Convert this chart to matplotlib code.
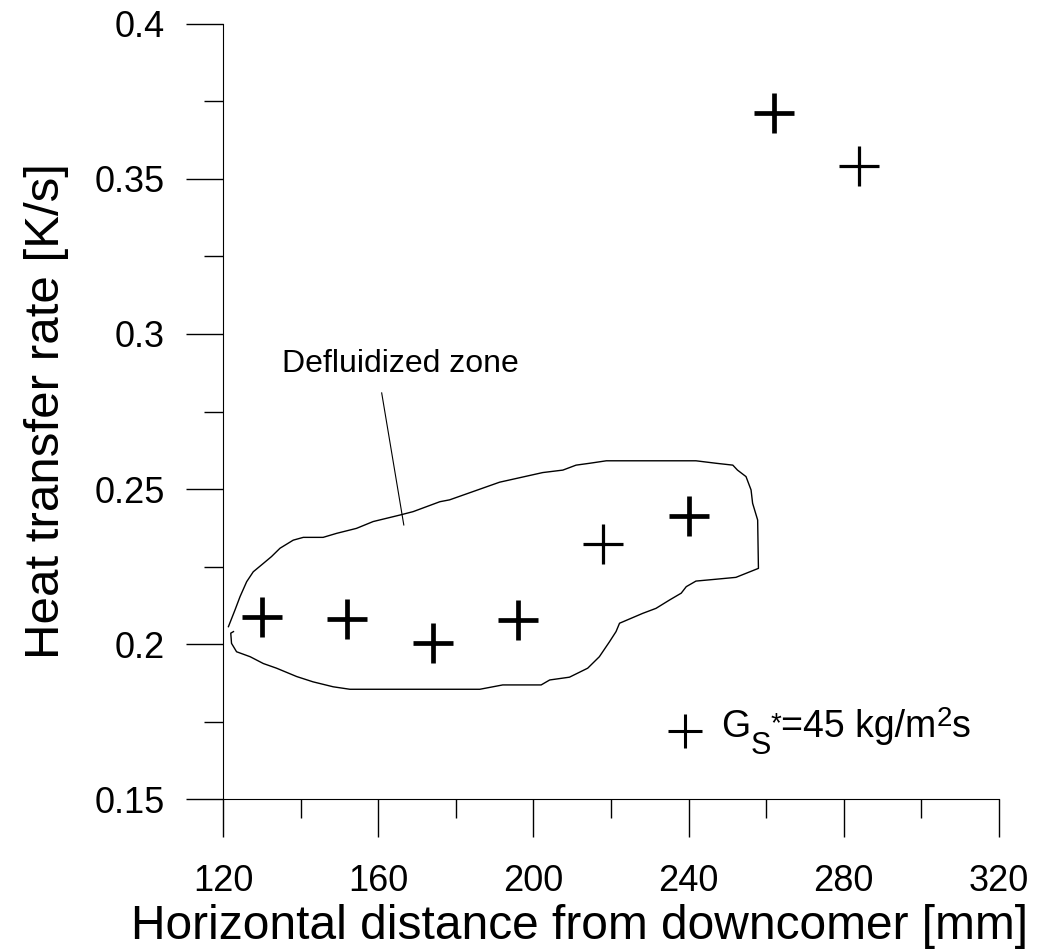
import matplotlib
matplotlib.use('Agg')
import matplotlib.pyplot as plt
from matplotlib.ticker import MultipleLocator

plt.rcParams['font.family'] = ['Liberation Sans', 'DejaVu Sans']

# measured points (Gs* = 45 kg/m2s)
dist_bold = [130, 152, 174, 196, 240, 262]
rate_bold = [0.2087, 0.2080, 0.2004, 0.2077, 0.2414, 0.3714]
dist_thin = [218, 284]
rate_thin = [0.2324, 0.3542]

# outline of the defluidized zone
zone_x = [121.4, 123.1, 124.4, 126.1, 127.8, 130.4, 132.5, 134.7, 138.1, 140.7,
          145.8, 149.3, 154.4, 158.7, 165.6, 169.0, 175.9, 178.4, 191.3, 202.4,
          207.6, 211.0, 214.5, 218.8, 241.9, 247.1, 251.4, 252.6, 254.8, 256.1,
          256.5, 257.8, 258.0, 254.8, 252.2, 247.1, 241.9, 239.4, 238.1, 235.1,
          231.6, 228.2, 222.2, 221.3, 219.6, 217.0, 214.0, 209.3, 204.2, 202.0,
          192.1, 186.2, 152.7, 148.4, 143.2, 139.0, 133.8, 130.4, 127.0, 123.5,
          122.2, 122.0, 122.7]
zone_y = [0.2056, 0.2110, 0.2153, 0.2201, 0.2233, 0.2260, 0.2282, 0.2309, 0.2335, 0.2344,
          0.2344, 0.2357, 0.2373, 0.2395, 0.2416, 0.2427, 0.2459, 0.2465, 0.2522, 0.2553,
          0.2561, 0.2577, 0.2583, 0.2591, 0.2591, 0.2583, 0.2577, 0.2561, 0.2540, 0.2497,
          0.2454, 0.2400, 0.2244, 0.2228, 0.2215, 0.2209, 0.2203, 0.2185, 0.2164, 0.2142,
          0.2115, 0.2099, 0.2067, 0.2040, 0.2007, 0.1959, 0.1922, 0.1893, 0.1884, 0.1868,
          0.1868, 0.1854, 0.1854, 0.1862, 0.1878, 0.1895, 0.1922, 0.1937, 0.1959, 0.1975,
          0.2002, 0.2035, 0.2040]

leader_x = [160.9, 166.6]
leader_y = [0.281, 0.2384]

fig = plt.figure(figsize=(10.43, 9.52), dpi=100)
ax = fig.add_axes([0.2138, 0.1607, 0.9578 - 0.2138, 0.9748 - 0.1607])

ax.plot(zone_x, zone_y, color='black', lw=1.0)
ax.plot(leader_x, leader_y, color='black', lw=0.8)
ax.text(165.6, 0.2903, 'Defluidized zone', fontsize=23, ha='center', va='center')

ax.plot(dist_bold, rate_bold, linestyle='none', marker='+', ms=29, mew=3.4, color='black')
ax.plot(dist_thin, rate_thin, linestyle='none', marker='+', ms=29, mew=2.3, color='black')

# legend entry, built piece by piece (big subscript / superscript like the original)
ax.plot([239.2], [0.1719], marker='+', ms=24, mew=2.2, color='black', linestyle='none')
fs = 27
t_g = ax.text(248.4, 0.1701, 'G', fontsize=fs, va='baseline', ha='left')
pieces = [('S', 22, -11.5), ('*', 20, 5.5), ('=45 kg/m', fs, 0), ('2', 20, 9.0), ('s', fs, 0)]
prev = t_g
for txt, size, dy in pieces:
    prev = ax.annotate(txt, xy=(1, 0), xycoords=(prev, t_g), xytext=(0, dy),
                       textcoords='offset points', fontsize=size, va='bottom', ha='left')

ax.set_xlim(120, 320)
ax.set_ylim(0.15, 0.4)
ax.xaxis.set_major_locator(MultipleLocator(40))
ax.xaxis.set_minor_locator(MultipleLocator(20))
ax.yaxis.set_minor_locator(MultipleLocator(0.025))
ax.set_yticks([0.15, 0.2, 0.25, 0.3, 0.35, 0.4])
ax.set_yticklabels(['0.15', '0.2', '0.25', '0.3', '0.35', '0.4'])

ax.spines['top'].set_visible(False)
ax.spines['right'].set_visible(False)
ax.tick_params(which='major', direction='out', length=27, width=1, labelsize=26)
ax.tick_params(which='minor', direction='out', length=14, width=1)
ax.tick_params(axis='x', which='major', pad=20)
ax.tick_params(axis='y', which='major', pad=15)

ax.set_xlabel('Horizontal distance from downcomer [mm]', fontsize=34.5, labelpad=3.5)
ax.xaxis.label.set_x(0.459)
ax.set_ylabel('Heat transfer rate [K/s]', fontsize=35.5, labelpad=18)

fig.savefig('out.png', dpi=100)
